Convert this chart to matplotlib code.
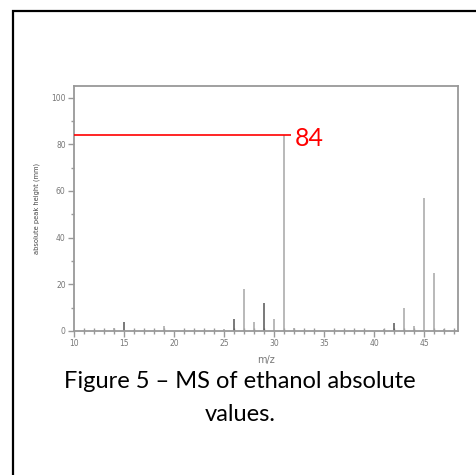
import matplotlib
matplotlib.use("Agg")
import matplotlib.pyplot as plt
from matplotlib.patches import Rectangle
from matplotlib.ticker import MultipleLocator

# Mass spectrum of ethanol: m/z and absolute peak height (mm)
mz = [14, 15, 16, 19, 25, 26, 27, 28, 29, 30, 31, 32, 41, 42, 43, 44, 45, 46, 47]
height = [1.5, 4, 0.5, 2, 1, 5, 18, 4, 12, 5, 84, 1.5, 1, 3.5, 10, 2, 57, 25, 0.7]
dark_peaks = [15, 26, 29, 42]

base_peak = 84
x_ticks = [10, 15, 20, 25, 30, 35, 40, 45]
y_ticks = [0, 20, 40, 60, 80, 100]

W, H = 477, 475
fig = plt.figure(figsize=(W / 100, H / 100), dpi=100)

# outer frame (runs off the right and bottom edges)
fig.patches.append(Rectangle((13 / W, -0.05), 1.1, (H - 11) / H + 0.05,
                             transform=fig.transFigure, fill=False,
                             edgecolor="black", linewidth=1.6))

ax = fig.add_axes([74 / W, (H - 331) / H, (458 - 74) / W, (331 - 86) / H])

grey = "#999999"
for m, h in zip(mz, height):
    c = "#555555" if m in dark_peaks else "#a5a5a5"
    ax.vlines(m, 0, h, color=c, linewidth=1.1, zorder=2)

ax.hlines(base_peak, 10, 31.7, color="red", linewidth=1.2, zorder=3)
ax.text(32.1, base_peak - 1.3, str(base_peak), color="red", fontsize=18,
        family="Lato", va="center", ha="left")

ax.set_xlim(10, 48.4)
ax.set_ylim(0, 105)
ax.set_xticks(x_ticks)
ax.set_yticks(y_ticks)
ax.xaxis.set_minor_locator(MultipleLocator(1))
ax.yaxis.set_minor_locator(MultipleLocator(10))

for s in ax.spines.values():
    s.set_color(grey)
    s.set_linewidth(1.3)

ax.tick_params(axis="both", which="major", length=4, width=1, color=grey,
               labelcolor="#777777", labelsize=5.5, pad=2)
ax.tick_params(axis="x", which="minor", direction="inout", length=5, width=1, color=grey)
ax.tick_params(axis="y", which="minor", length=2, width=1, color=grey)

ax.set_xlabel("m/z", color="#777777", fontsize=7, labelpad=5)
ax.set_ylabel("absolute peak height (mm)", color="#444444", fontsize=4.8, labelpad=8)

fig.text(240 / W, 1 - 388 / H, "Figure 5 \u2013 MS of ethanol absolute",
         fontsize=17, family="Lato", ha="center", va="baseline", color="black")
fig.text(240 / W, 1 - 421 / H, "values.",
         fontsize=17, family="Lato", ha="center", va="baseline", color="black")

fig.savefig("out.png", dpi=100)
